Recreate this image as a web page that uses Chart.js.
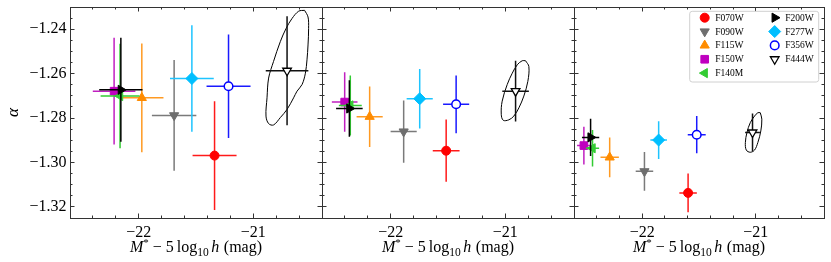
<!DOCTYPE html>
<html><head><meta charset="utf-8">
<script src="https://cdn.jsdelivr.net/npm/chart.js@4.4.1/dist/chart.umd.min.js"></script>
<style>
html,body{margin:0;padding:0;background:#fff;}
#wrap{position:relative;width:831px;height:262px;overflow:hidden;background:#fff;}
#wrap canvas{position:absolute;left:0;top:0;}
</style></head><body>
<div id="wrap">
<canvas id="c1" width="831" height="262"></canvas>
<canvas id="c2" width="831" height="262"></canvas>
<canvas id="c3" width="831" height="262"></canvas>
</div>
<script>
// ---------------- data ----------------
const filters = ['F070W','F090W','F115W','F150W','F140M','F200W','F277W','F356W','F444W'];

// panel 1
const p1M        = [-21.338, -21.691, -21.973, -22.215, -22.163, -22.156, -21.536, -21.216, -20.705];
const p1Alpha    = [-1.2969, -1.2788, -1.2709, -1.2679, -1.2701, -1.2673, -1.2622, -1.2657, -1.2587];
const p1MErr     = [0.192, 0.194, 0.189, 0.186, 0.170, 0.189, 0.191, 0.192, 0.186];
const p1AlphaErr = [0.0245, 0.0249, 0.0245, 0.0240, 0.0235, 0.0234, 0.0240, 0.0233, 0.0245];
// panel 2
const p2M        = [-21.516, -21.887, -22.184, -22.402, -22.353, -22.361, -21.747, -21.429, -20.910];
const p2Alpha    = [-1.2947, -1.2861, -1.2794, -1.2728, -1.2743, -1.2757, -1.2713, -1.2738, -1.2679];
const p2MErr     = [0.117, 0.114, 0.114, 0.112, 0.100, 0.116, 0.114, 0.114, 0.116];
const p2AlphaErr = [0.0140, 0.0140, 0.0136, 0.0134, 0.0135, 0.0127, 0.0134, 0.0130, 0.0137];
// panel 3
const p3M        = [-21.596, -21.980, -22.286, -22.513, -22.437, -22.454, -21.855, -21.520, -21.029];
const p3Alpha    = [-1.3137, -1.3040, -1.2977, -1.2924, -1.2936, -1.2887, -1.2899, -1.2875, -1.2865];
const p3MErr     = [0.077, 0.077, 0.081, 0.060, 0.058, 0.076, 0.073, 0.079, 0.065];
const p3AlphaErr = [0.0087, 0.0087, 0.0089, 0.0085, 0.0082, 0.0084, 0.0085, 0.0084, 0.0086];

// F444W contours
const contour1M     = [-20.552,-20.522,-20.517,-20.522,-20.531,-20.545,-20.574,-20.618,-20.648,-20.705,-20.764,-20.823,-20.866,-20.889,-20.880,-20.866,-20.823,-20.764,-20.714,-20.662,-20.604];
const contour1Alpha = [-1.2315,-1.2345,-1.2397,-1.2471,-1.2538,-1.2598,-1.2649,-1.2679,-1.2709,-1.2761,-1.2798,-1.2831,-1.2825,-1.2791,-1.2709,-1.2620,-1.2545,-1.2456,-1.2397,-1.2352,-1.2319];
const contour2M     = [-20.823,-20.794,-20.803,-20.838,-20.881,-20.925,-20.969,-21.018,-21.035,-21.027,-20.983,-20.939,-20.895,-20.852];
const contour2Alpha = [-1.2542,-1.2568,-1.2635,-1.2701,-1.2754,-1.2791,-1.2808,-1.2810,-1.2783,-1.2724,-1.2649,-1.2598,-1.2560,-1.2542];
const contour3M     = [-20.961,-20.947,-20.956,-20.982,-21.011,-21.049,-21.084,-21.092,-21.078,-21.049,-21.011,-20.982];
const contour3Alpha = [-1.2776,-1.2805,-1.2858,-1.2910,-1.2944,-1.2954,-1.2944,-1.2910,-1.2865,-1.2821,-1.2791,-1.2776];

// axes
const xMin = -22.6, xMax = -20.4;
const yMin = -1.325, yMax = -1.23;
const xMajorTicks = [-22, -21];
const yMajorTicks = [-1.32, -1.30, -1.28, -1.26, -1.24];

// ---------------- styles ----------------
const serif = "'Liberation Serif', 'Times New Roman', serif";
const frameColor = '#333';
const markerStyles = [
  {shape:'circle',   rot:0,   r:4.5, fill:'#ff0000', edge:'#ff0000', ew:1,   err:'#ff1a1a'},
  {shape:'triangle', rot:180, r:5.3, fill:'#6e6e6e', edge:'#6e6e6e', ew:1,   err:'#7a7a7a'},
  {shape:'triangle', rot:0,   r:5.3, fill:'#ff8c00', edge:'#ff8c00', ew:1,   err:'#ff9a22'},
  {shape:'rect',     rot:0,   r:5.4, fill:'#bf00bf', edge:'#bf00bf', ew:1,   err:'#c020c0'},
  {shape:'triangle', rot:270, r:5.3, fill:'#33cc33', edge:'#33cc33', ew:1,   err:'#33cc33'},
  {shape:'triangle', rot:90,  r:5.3, fill:'#000000', edge:'#000000', ew:1,   err:'#000000'},
  {shape:'rectRot',  rot:0,   r:6.0, fill:'#00bfff', edge:'#00bfff', ew:1,   err:'#1ec4ff'},
  {shape:'circle',   rot:0,   r:4.3, fill:'#ffffff', edge:'#0000ff', ew:1.5, err:'#1a1aff'},
  {shape:'triangle', rot:180, r:5.0, fill:'#ffffff', edge:'#000000', ew:1.3, err:'#111111'}
];

function makeDatasets(M, A, ME, AE, cM, cA) {
  const ds = filters.map((name, i) => ({
    label: name,
    data: [{x: M[i], y: A[i], xErr: ME[i], yErr: AE[i]}],
    pointStyle: markerStyles[i].shape,
    pointRotation: markerStyles[i].rot,
    pointRadius: markerStyles[i].r,
    pointBackgroundColor: markerStyles[i].fill,
    pointBorderColor: markerStyles[i].edge,
    pointBorderWidth: markerStyles[i].ew,
    backgroundColor: markerStyles[i].fill,
    borderColor: markerStyles[i].edge,
    errColor: markerStyles[i].err,
    order: filters.length - i,
    xAxisID: 'x', yAxisID: 'y'
  }));
  const loopM = cM.concat([cM[0]]), loopA = cA.concat([cA[0]]);
  ds.push({
    label: 'F444W contour',
    data: loopM.map((m, k) => ({x: m, y: loopA[k]})),
    showLine: true, tension: 0.35, pointRadius: 0, pointHoverRadius: 0,
    borderColor: '#000', borderWidth: 1, backgroundColor: 'rgba(0,0,0,0)', fill: false,
    order: 50, isContour: true, xAxisID: 'x', yAxisID: 'y'
  });
  return ds;
}

// ---------------- plugins ----------------
const errorBarPlugin = {
  id: 'errorBars',
  beforeDatasetDraw(chart, args) {
    const ds = chart.data.datasets[args.index];
    if (!ds.errColor) return;
    const xs = chart.scales.x, ys = chart.scales.y, ctx = chart.ctx;
    ctx.save();
    ctx.strokeStyle = ds.errColor;
    ctx.lineWidth = 1.5;
    ds.data.forEach(p => {
      const px = xs.getPixelForValue(p.x), py = ys.getPixelForValue(p.y);
      ctx.beginPath();
      ctx.moveTo(xs.getPixelForValue(p.x - p.xErr), py);
      ctx.lineTo(xs.getPixelForValue(p.x + p.xErr), py);
      ctx.moveTo(px, ys.getPixelForValue(p.y - p.yErr));
      ctx.lineTo(px, ys.getPixelForValue(p.y + p.yErr));
      ctx.stroke();
    });
    ctx.restore();
  }
};

const richTitlePlugin = {
  id: 'richTitle',
  afterDraw(chart) {
    const ctx = chart.ctx, a = chart.chartArea;
    const segs = [
      {t:'M', f:'italic 16px ' + serif, dy:0},
      {t:'*', f:'11px ' + serif, dy:-6.5},
      {gap:4},
      {t:'\u2212', f:'16px ' + serif, dy:0},
      {gap:4},
      {t:'5', f:'16px ' + serif, dy:0},
      {gap:3},
      {t:'log', f:'16px ' + serif, dy:0},
      {t:'10', f:'11.5px ' + serif, dy:4},
      {gap:2.5},
      {t:'h', f:'italic 16px ' + serif, dy:0},
      {gap:4.5},
      {t:'(mag)', f:'16px ' + serif, dy:0}
    ];
    ctx.save();
    let total = 0;
    segs.forEach(s => {
      if (s.gap) { s.w = s.gap; } else { ctx.font = s.f; s.w = ctx.measureText(s.t).width; }
      total += s.w;
    });
    let x = (a.left + a.right) / 2 - total / 2;
    const base = 252;
    ctx.fillStyle = '#000';
    ctx.textBaseline = 'alphabetic';
    ctx.textAlign = 'left';
    segs.forEach(s => {
      if (!s.gap) { ctx.font = s.f; ctx.fillText(s.t, x, base + s.dy); }
      x += s.w;
    });
    ctx.restore();
  }
};

const legendPlugin = {
  id: 'filterLegend',
  afterDraw(chart, args, opts) {
    if (!opts || !opts.show) return;
    const ctx = chart.ctx, a = chart.chartArea;
    const fx = a.right - 134.3, fy = a.top + 4.3, fw = 129, fh = 70.7;
    ctx.save();
    ctx.beginPath();
    if (ctx.roundRect) ctx.roundRect(fx, fy, fw, fh, 2.5); else ctx.rect(fx, fy, fw, fh);
    ctx.fillStyle = 'rgba(255,255,255,0.85)';
    ctx.fill();
    ctx.strokeStyle = '#d0d0d0';
    ctx.lineWidth = 1;
    ctx.stroke();
    const area = {left: 0, top: 0, right: chart.width, bottom: chart.height};
    chart.data.datasets.forEach((ds, i) => {
      if (ds.isContour) return;
      const col = i < 5 ? 0 : 1, row = i < 5 ? i : i - 5;
      const mx = fx + 15 + col * 70, my = fy + 6.4 + row * 13.85;
      const st = {pointStyle: ds.pointStyle, rotation: ds.pointRotation, radius: ds.pointRadius,
                  borderWidth: ds.pointBorderWidth, borderColor: ds.pointBorderColor, backgroundColor: ds.pointBackgroundColor};
      if (Chart.helpers && Chart.helpers.drawPoint) {
        ctx.fillStyle = st.backgroundColor; ctx.strokeStyle = st.borderColor; ctx.lineWidth = st.borderWidth;
        Chart.helpers.drawPoint(ctx, st, mx, my);
      } else {
        const el = new Chart.PointElement({x: mx, y: my, options: st});
        el.draw(ctx, area);
      }
      ctx.fillStyle = '#000';
      ctx.font = '9.5px ' + serif;
      ctx.textBaseline = 'middle';
      ctx.textAlign = 'left';
      ctx.fillText(ds.label, mx + 10.6, my + 0.5);
    });
    ctx.restore();
  }
};

// ---------------- scales ----------------
function minorTicks(lo, hi, step, majors) {
  const out = [];
  const n = Math.round((hi - lo) / step);
  for (let i = 0; i <= n; i++) {
    const v = +(lo + i * step).toFixed(4);
    if (!majors.some(m => Math.abs(m - v) < 1e-9)) out.push(v);
  }
  return out;
}
const xMinorTicks = minorTicks(xMin, xMax, 0.2, xMajorTicks);
const yMinorTicks = minorTicks(yMin, yMax, 0.005, yMajorTicks);

const fmt = (v, d) => (v < 0 ? '\u2212' : '') + Math.abs(v).toFixed(d);

function axisCfg(axis, position, weight, tickVals, len, size, border, labels, title) {
  const c = {
    type: 'linear', axis, position, weight, bounds: 'data',
    min: axis === 'x' ? xMin : yMin,
    max: axis === 'x' ? xMax : yMax,
    afterBuildTicks: s => { s.ticks = tickVals.map(v => ({value: v})); },
    afterFit: s => {
      if (axis === 'x') s.height = size; else s.width = size;
      s.paddingTop = 0; s.paddingBottom = 0; s.paddingLeft = 0; s.paddingRight = 0;
    },
    grid: { display: true, drawOnChartArea: false, drawTicks: true, tickLength: -len, tickColor: frameColor, tickWidth: 1 },
    border: { display: border, color: frameColor, width: 1 },
    ticks: labels || { display: false },
    title: title || { display: false }
  };
  return c;
}

function makeScales(showY) {
  const xLabels = { display: true, autoSkip: false, maxRotation: 0, minRotation: 0, padding: 9.5,
                    color: '#000', font: {family: serif, size: 16}, callback: v => fmt(v, 0) };
  const yLabels = { display: true, autoSkip: false, padding: 8, color: '#000',
                    font: {family: serif, size: 16}, callback: v => fmt(v, 2) };
  const yTitle = { display: true, text: '\u03b1', color: '#000',
                   font: {family: serif, size: 17, style: 'italic'}, padding: {top: 3, bottom: 0} };
  return {
    x:           axisCfg('x', 'bottom', 0,  xMajorTicks, 4.5, 44, true,  xLabels),
    xMinor:      axisCfg('x', 'bottom', -1, xMinorTicks, 2.5, 0,  false, null),
    xTop:        axisCfg('x', 'top',    0,  xMajorTicks, 4.5, 0,  true,  null),
    xTopMinor:   axisCfg('x', 'top',    -1, xMinorTicks, 2.5, 0,  false, null),
    y:           axisCfg('y', 'left',   0,  yMajorTicks, 4.5, showY ? 70 : 0, true, showY ? yLabels : null, showY ? yTitle : null),
    yMinor:      axisCfg('y', 'left',   -1, yMinorTicks, 2.5, 0,  false, null),
    yRight:      axisCfg('y', 'right',  0,  yMajorTicks, 4.5, 0,  true,  null),
    yRightMinor: axisCfg('y', 'right',  -1, yMinorTicks, 2.5, 0,  false, null)
  };
}

function makeChart(id, datasets, padLeft, padRight, showY, showLegend) {
  return new Chart(document.getElementById(id), {
    type: 'scatter',
    data: { datasets },
    options: {
      responsive: false, animation: false, devicePixelRatio: 1, events: [],
      layout: { padding: { left: padLeft, right: padRight, top: 5, bottom: 0 } },
      scales: makeScales(showY),
      plugins: {
        legend: { display: false }, tooltip: { enabled: false },
        filterLegend: { show: showLegend }
      }
    },
    plugins: [errorBarPlugin, richTitlePlugin, legendPlugin]
  });
}

makeChart('c1', makeDatasets(p1M, p1Alpha, p1MErr, p1AlphaErr, contour1M, contour1Alpha), 0, 831 - 322, true, false);
makeChart('c2', makeDatasets(p2M, p2Alpha, p2MErr, p2AlphaErr, contour2M, contour2Alpha), 322, 831 - 574, false, false);
makeChart('c3', makeDatasets(p3M, p3Alpha, p3MErr, p3AlphaErr, contour3M, contour3Alpha), 574, 5, false, true);
</script>
</body></html>
